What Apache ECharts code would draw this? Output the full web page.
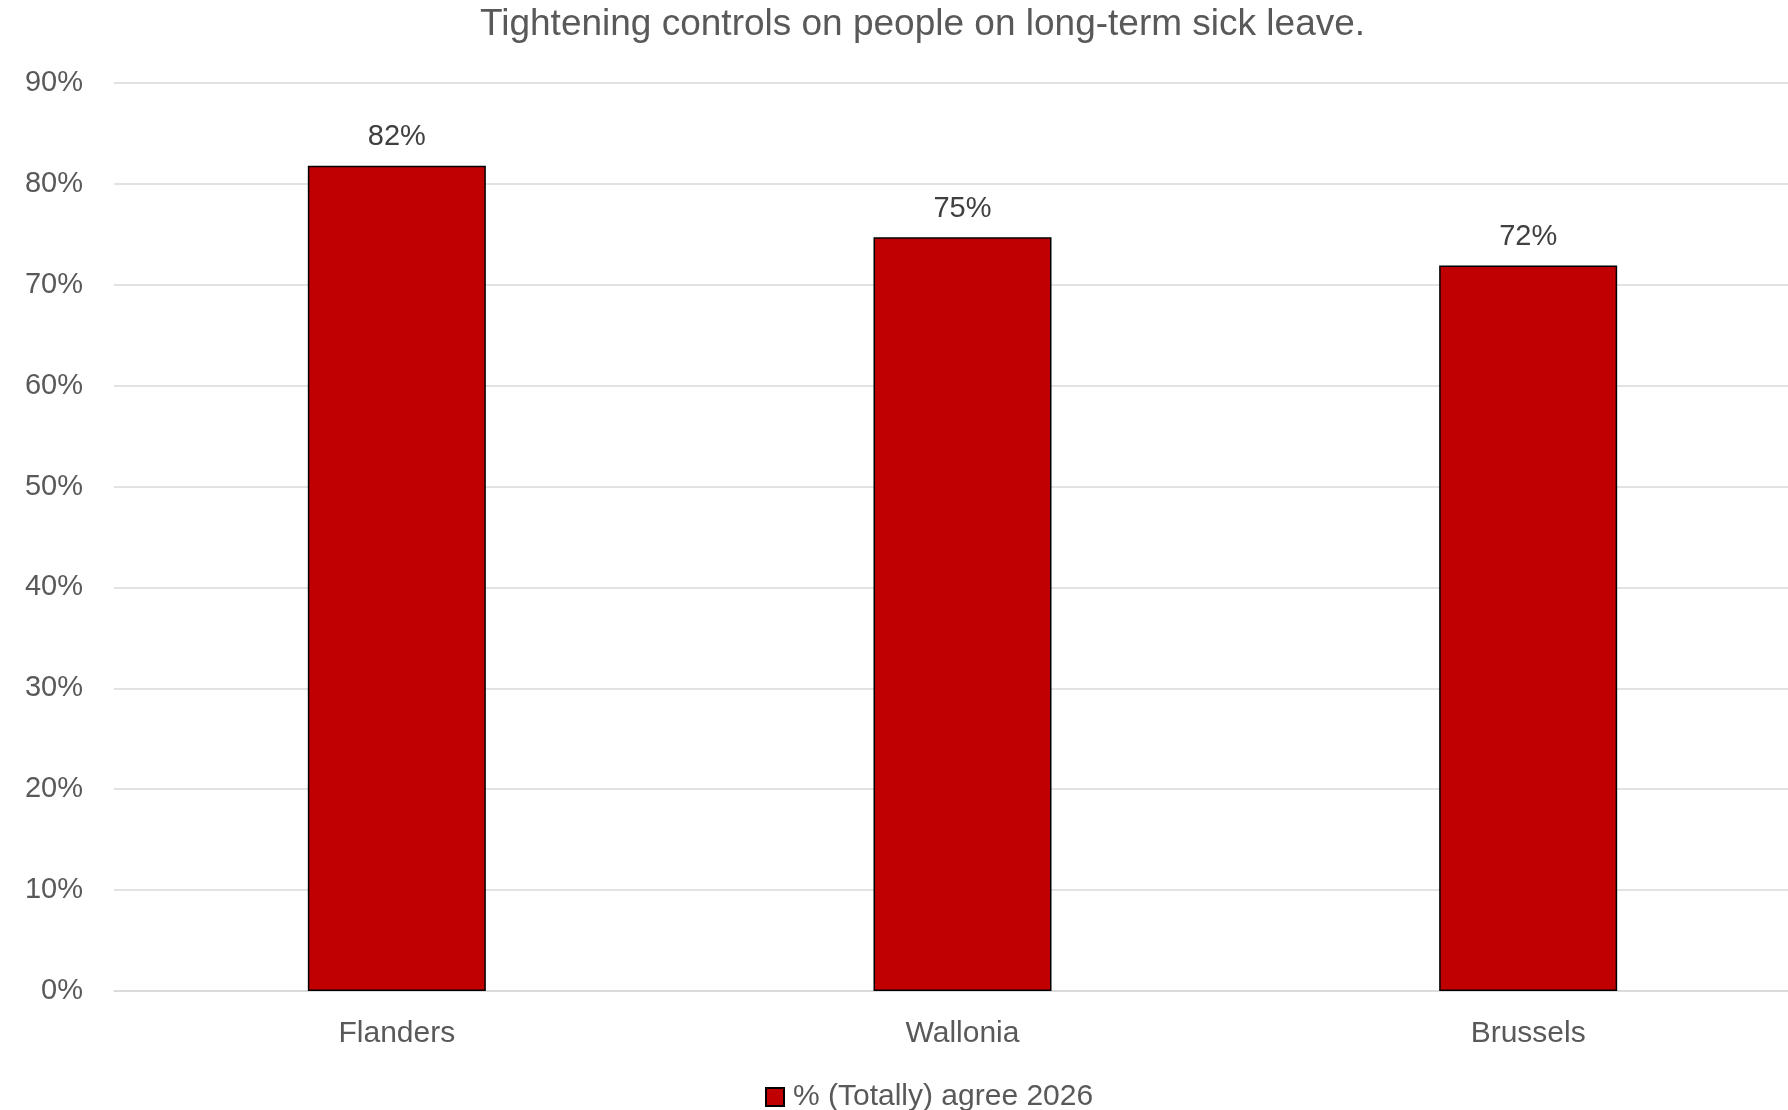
<!DOCTYPE html>
<html>
<head>
<meta charset="utf-8">
<script src="https://cdn.jsdelivr.net/npm/echarts@6/dist/echarts.min.js"></script>
<style>html,body{margin:0;padding:0;background:#fff;overflow:hidden}#chart{width:1811px;height:1110px}</style>
</head>
<body>
<div id="chart"></div>
<script>
const titleText = 'Tightening controls on people on long-term sick leave.';
const categories = ['Flanders', 'Wallonia', 'Brussels'];
const seriesName = '% (Totally) agree 2026';
const values = [81.8, 74.7, 71.9];
const labels = ['82%', '75%', '72%'];

const FONT = '"Liberation Sans", Arial, sans-serif';
const TXT = '#595959';
const chart = echarts.init(document.getElementById('chart'), null, {renderer: 'canvas'});
chart.setOption({
  animation: false,
  backgroundColor: '#ffffff',
  title: {
    text: titleText,
    left: 475,
    top: 1,
    textStyle: {fontFamily: FONT, fontSize: 37, fontWeight: 'normal', color: TXT}
  },
  legend: {
    data: [seriesName],
    left: 760,
    top: 1077,
    itemWidth: 18,
    itemHeight: 18,
    itemGap: 10,
    icon: 'rect',
    textStyle: {fontFamily: FONT, fontSize: 30, color: TXT, padding: [0, 0, 0, 4]}
  },
  grid: {left: 114, right: 0, top: 83, bottom: 119, containLabel: false},
  xAxis: {
    type: 'category',
    data: categories,
    axisLine: {show: true, lineStyle: {color: '#D9D9D9', width: 1.5}},
    axisTick: {show: false},
    axisLabel: {fontFamily: FONT, fontSize: 30, color: TXT, margin: 28}
  },
  yAxis: {
    type: 'value',
    min: 0, max: 90, interval: 10,
    axisLine: {show: false},
    axisTick: {show: false},
    axisLabel: {fontFamily: FONT, fontSize: 29, color: TXT, margin: 31, formatter: '{value}%'},
    splitLine: {lineStyle: {color: '#D9D9D9', width: 1.5}}
  },
  series: [{
    name: seriesName,
    type: 'bar',
    data: values,
    barWidth: 178,
    itemStyle: {color: '#C00000', borderColor: '#000000', borderWidth: 1.5},
    label: {
      show: true,
      position: 'top',
      distance: 14,
      fontFamily: FONT, fontSize: 29, color: '#404040',
      formatter: p => labels[p.dataIndex]
    }
  }]
});
</script>
</body>
</html>
